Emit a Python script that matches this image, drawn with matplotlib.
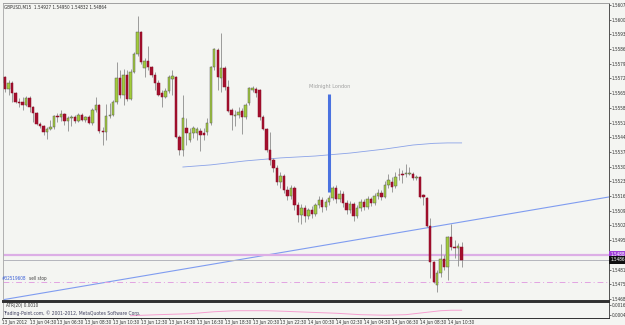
import numpy as np
import matplotlib.pyplot as plt
import matplotlib.transforms as mtransforms
from matplotlib import font_manager as fm

# look for a narrow face, MT4 text in the screenshot is squeezed
narrow_file = None
for f in fm.fontManager.ttflist:
    tag = (f.name + ' ' + str(f.stretch)).lower()
    if ('narrow' in tag or 'condensed' in tag) and f.style == 'normal' \
            and str(f.weight) in ('400', 'normal', 'regular', 'book'):
        narrow_file = f.fname
        break
if narrow_file:
    fp = fm.FontProperties(fname=narrow_file, size=3.3)
else:
    fp = fm.FontProperties(family='Liberation Sans', size=2.9)
FS = fp.get_size_in_points()

# header of the chart window
header_text = 'GBPUSD,M15  1.54927 1.54950 1.54832 1.54864'

# M15 candles, 13 Jun 2012 02:30 -> 14 Jun 2012 11:30
opens = [
    1.55701, 1.55730, 1.55673, 1.55701, 1.55654, 1.55612, 1.55612, 1.55597, 1.55630, 1.55588,
    1.55559, 1.55507, 1.55498, 1.55470, 1.55484, 1.55493, 1.55545, 1.55541, 1.55555, 1.55522,
    1.55536, 1.55541, 1.55522, 1.55550, 1.55526, 1.55541, 1.55512, 1.55574, 1.55597, 1.55474,
    1.55470, 1.55545, 1.55550, 1.55612, 1.55725, 1.55645, 1.55739, 1.55626, 1.55753, 1.55839,
    1.55943, 1.55772, 1.55805, 1.55777, 1.55739, 1.55701, 1.55654, 1.55635, 1.55664, 1.55720,
    1.55730, 1.55446, 1.55385, 1.55489, 1.55432, 1.55465, 1.55465, 1.55474, 1.55465, 1.55470,
    1.55512, 1.55777, 1.55858, 1.55725, 1.55772, 1.55682, 1.55574, 1.55545, 1.55550, 1.55569,
    1.55541, 1.55607, 1.55668, 1.55673, 1.55668, 1.55541, 1.55484, 1.55385, 1.55338, 1.55300,
    1.55233, 1.55262, 1.55195, 1.55167, 1.55205, 1.55124, 1.55077, 1.55110, 1.55072, 1.55101,
    1.55082, 1.55124, 1.55148, 1.55115, 1.55139, 1.55157, 1.55205, 1.55153, 1.55176, 1.55134,
    1.55101, 1.55129, 1.55072, 1.55110, 1.55139, 1.55115, 1.55153, 1.55134, 1.55167, 1.55181,
    1.55162, 1.55219, 1.55233, 1.55214, 1.55266, 1.55271, 1.55271, 1.55271, 1.55271, 1.55252,
    1.55257, 1.55171, 1.55157, 1.55025, 1.54855, 1.54746, 1.54803, 1.54869, 1.54831, 1.54973,
    1.54926, 1.54921, 1.54927]
highs = [
    1.55753, 1.55735, 1.55716, 1.55711, 1.55659, 1.55630, 1.55635, 1.55640, 1.55640, 1.55593,
    1.55564, 1.55517, 1.55503, 1.55493, 1.55526, 1.55550, 1.55559, 1.55574, 1.55559, 1.55545,
    1.55550, 1.55550, 1.55559, 1.55559, 1.55545, 1.55550, 1.55583, 1.55635, 1.55602, 1.55493,
    1.55602, 1.55607, 1.55621, 1.55801, 1.55763, 1.55768, 1.55763, 1.55768, 1.55848, 1.56018,
    1.55947, 1.55820, 1.55876, 1.55782, 1.55753, 1.55716, 1.55668, 1.55678, 1.55739, 1.55763,
    1.55735, 1.55456, 1.55645, 1.55536, 1.55489, 1.55498, 1.55493, 1.55489, 1.55489, 1.55536,
    1.55782, 1.55867, 1.55867, 1.55938, 1.55782, 1.55716, 1.55583, 1.55574, 1.55588, 1.55583,
    1.55607, 1.55682, 1.55687, 1.55682, 1.55673, 1.55550, 1.55489, 1.55470, 1.55347, 1.55314,
    1.55280, 1.55271, 1.55214, 1.55219, 1.55214, 1.55139, 1.55129, 1.55124, 1.55110, 1.55120,
    1.55134, 1.55167, 1.55162, 1.55153, 1.55171, 1.55214, 1.55219, 1.55195, 1.55190, 1.55148,
    1.55143, 1.55139, 1.55124, 1.55153, 1.55153, 1.55167, 1.55162, 1.55181, 1.55200, 1.55195,
    1.55238, 1.55271, 1.55257, 1.55280, 1.55300, 1.55290, 1.55318, 1.55304, 1.55280, 1.55266,
    1.55262, 1.55176, 1.55162, 1.55063, 1.54859, 1.54817, 1.54940, 1.54888, 1.54978, 1.55035,
    1.54959, 1.54945, 1.54950]
lows = [
    1.55692, 1.55659, 1.55645, 1.55612, 1.55607, 1.55588, 1.55574, 1.55593, 1.55564, 1.55517,
    1.55503, 1.55489, 1.55456, 1.55437, 1.55479, 1.55484, 1.55517, 1.55522, 1.55503, 1.55474,
    1.55498, 1.55512, 1.55517, 1.55522, 1.55517, 1.55507, 1.55503, 1.55564, 1.55465, 1.55408,
    1.55432, 1.55536, 1.55545, 1.55602, 1.55630, 1.55597, 1.55616, 1.55621, 1.55749, 1.55829,
    1.55791, 1.55730, 1.55763, 1.55730, 1.55668, 1.55640, 1.55588, 1.55630, 1.55654, 1.55645,
    1.55441, 1.55361, 1.55356, 1.55408, 1.55423, 1.55441, 1.55432, 1.55380, 1.55432, 1.55456,
    1.55503, 1.55763, 1.55668, 1.55659, 1.55668, 1.55564, 1.55479, 1.55498, 1.55536, 1.55460,
    1.55531, 1.55597, 1.55659, 1.55635, 1.55526, 1.55479, 1.55375, 1.55314, 1.55280, 1.55219,
    1.55205, 1.55181, 1.55148, 1.55153, 1.55101, 1.55044, 1.55035, 1.55044, 1.55058, 1.55063,
    1.55072, 1.55110, 1.55091, 1.55101, 1.55124, 1.55148, 1.55134, 1.55139, 1.55115, 1.55082,
    1.55087, 1.55049, 1.55063, 1.55096, 1.55101, 1.55106, 1.55120, 1.55124, 1.55153, 1.55148,
    1.55157, 1.55205, 1.55186, 1.55205, 1.55243, 1.55228, 1.55257, 1.55266, 1.55243, 1.55243,
    1.55157, 1.55124, 1.55020, 1.54779, 1.54755, 1.54713, 1.54784, 1.54817, 1.54770, 1.54912,
    1.54874, 1.54836, 1.54832]
closes = [
    1.55730, 1.55673, 1.55701, 1.55654, 1.55612, 1.55609, 1.55597, 1.55630, 1.55588, 1.55559,
    1.55507, 1.55498, 1.55470, 1.55484, 1.55493, 1.55545, 1.55541, 1.55555, 1.55522, 1.55536,
    1.55541, 1.55522, 1.55550, 1.55526, 1.55541, 1.55512, 1.55574, 1.55597, 1.55474, 1.55470,
    1.55545, 1.55550, 1.55612, 1.55725, 1.55645, 1.55739, 1.55626, 1.55753, 1.55839, 1.55943,
    1.55801, 1.55805, 1.55777, 1.55739, 1.55701, 1.55645, 1.55635, 1.55664, 1.55730, 1.55735,
    1.55446, 1.55385, 1.55536, 1.55465, 1.55465, 1.55489, 1.55484, 1.55456, 1.55456, 1.55512,
    1.55777, 1.55862, 1.55730, 1.55772, 1.55682, 1.55569, 1.55550, 1.55550, 1.55564, 1.55541,
    1.55597, 1.55678, 1.55678, 1.55654, 1.55541, 1.55484, 1.55385, 1.55338, 1.55300, 1.55233,
    1.55262, 1.55195, 1.55167, 1.55205, 1.55124, 1.55077, 1.55110, 1.55072, 1.55101, 1.55082,
    1.55124, 1.55148, 1.55115, 1.55139, 1.55157, 1.55205, 1.55153, 1.55176, 1.55134, 1.55101,
    1.55129, 1.55072, 1.55110, 1.55139, 1.55115, 1.55153, 1.55134, 1.55167, 1.55181, 1.55162,
    1.55219, 1.55243, 1.55209, 1.55257, 1.55264, 1.55266, 1.55276, 1.55276, 1.55252, 1.55257,
    1.55162, 1.55162, 1.55025, 1.54855, 1.54760, 1.54803, 1.54869, 1.54831, 1.54973, 1.54926,
    1.54921, 1.54930, 1.54864]

time_tick_idx = [0, 8, 16, 24, 32, 40, 48, 56, 64, 72, 80, 88, 96, 104, 112, 120, 128]
time_tick_labels = ['13 Jun 2012', '13 Jun 04:30', '13 Jun 06:30', '13 Jun 08:30',
                    '13 Jun 10:30', '13 Jun 12:30', '13 Jun 14:30', '13 Jun 16:30',
                    '13 Jun 18:30', '13 Jun 20:30', '13 Jun 22:30', '14 Jun 00:30',
                    '14 Jun 02:30', '14 Jun 04:30', '14 Jun 06:30', '14 Jun 08:30',
                    '14 Jun 10:30']

price_ticks = [1.54680, 1.54750, 1.54819, 1.54958, 1.55028, 1.55097, 1.55167,
               1.55236, 1.55306, 1.55375, 1.55445, 1.55514, 1.55584, 1.55653,
               1.55723, 1.55792, 1.55862, 1.55931, 1.56001, 1.56070]

bid_price = 1.54864
ask_price = 1.54888
sell_stop_price = 1.54760
sell_stop_text = '#32519608'

midnight_idx = 94
midnight_top = 1.55649
midnight_bottom = 1.55186

trend_idx = [0, 132]
trend_price = [1.54675, 1.55044]

ma_idx = [52, 60, 70, 80, 90, 100, 110, 118, 124, 128, 132]
ma_price = [1.55304, 1.55314, 1.55333, 1.55347, 1.55356, 1.55370, 1.55389,
            1.55408, 1.55416, 1.55418, 1.55418]

atr_idx = [37, 45, 54, 61, 67, 76, 81, 88, 96, 103, 110, 116, 121, 126, 129, 132]
atr_vals = [0.00025, 0.00038, 0.00050, 0.00075, 0.00088, 0.00088, 0.00081, 0.00069,
            0.00056, 0.00038, 0.00031, 0.00038, 0.00063, 0.00088, 0.00094, 0.00094]
atr_ticks = [0.0016, 0.0004]

BG = '#f4f5f2'
W, H = 625, 325

fig = plt.figure(figsize=(W / 100, H / 100), dpi=100, facecolor=BG)


def px_axes(x0, y0, x1, y1):
    return fig.add_axes([x0 / W, 1 - y1 / H, (x1 - x0) / W, (y1 - y0) / H])


ax = px_axes(3, 3, 609, 301)
ax_atr = px_axes(3, 302, 609, 318)

for a in (ax, ax_atr):
    a.set_facecolor(BG)
    a.set_xlim(0.37, 174.3)
    a.set_xticks([])
    a.yaxis.tick_right()
    a.tick_params(axis='y', length=1.5, width=0.5, pad=0.6, colors='#333333')
    a.spines['left'].set_color('#b0b0b0')
    a.spines['top'].set_color('#a0a0a0')
    a.spines['right'].set_color('#505050')
    a.spines['bottom'].set_color('#303030')
    for s in a.spines.values():
        s.set_linewidth(0.7)
ax.spines['bottom'].set_linewidth(1.4)
ax_atr.spines['top'].set_linewidth(1.4)
ax_atr.spines['top'].set_color('#303030')

ax.set_ylim(1.54670, 1.56080)
ax.set_yticks(price_ticks)
ax.set_yticklabels([f'{p:.5f}' for p in price_ticks], fontproperties=fp)

# candles
o = np.array(opens)
h = np.array(highs)
l = np.array(lows)
c = np.array(closes)
idx = np.arange(len(c))
up = c > o
ax.vlines(idx, l, h, color='#8c8c8c', lw=0.6, zorder=2)
body_bot = np.minimum(o, c)
body_h = np.maximum(np.abs(c - o), 0.00002)
ax.bar(idx[up], body_h[up], bottom=body_bot[up], width=0.7,
       color='#a2cc3a', edgecolor='#5a5a5a', lw=0.35, zorder=3)
ax.bar(idx[~up], body_h[~up], bottom=body_bot[~up], width=0.7,
       color='#a50f2d', edgecolor='#8a0c25', lw=0.35, zorder=3)

# trend line and moving average
ax.axline((trend_idx[0], trend_price[0]), (trend_idx[1], trend_price[1]),
          color='#7f9cf0', lw=0.8, zorder=1)
ax.plot(ma_idx, ma_price, color='#8aa2e8', lw=0.6, zorder=1)

# horizontal levels
ax.axhline(ask_price, color='#dcaee6', lw=1.6, zorder=1)
ax.axhline(bid_price, color='#b4b4bc', lw=0.7, zorder=1)
ax.axhline(sell_stop_price, color='#e2a3e2', lw=0.7, ls=(0, (6, 3, 1, 3)), zorder=1)

# Midnight London marker
ax.vlines(midnight_idx, midnight_bottom, midnight_top, color='#4a72e0', lw=2.2, zorder=4)
ax.text(midnight_idx, midnight_top + 0.00025, 'Midnight London', ha='center',
        va='bottom', fontproperties=fp, fontsize=FS + 0.7, color='#a0a0a0')

# texts
ax.text(0.002, 0.995, header_text, transform=ax.transAxes, ha='left', va='top',
        fontproperties=fp, color='#303030')
ax.text(0.0, sell_stop_price + 0.00006, sell_stop_text, ha='left', va='bottom',
        fontproperties=fp, color='#3a5fd8')
ax.text(7.8, sell_stop_price + 0.00006, 'sell stop', ha='left', va='bottom',
        fontproperties=fp, color='#404040')

trans = mtransforms.blended_transform_factory(ax.transAxes, ax.transData)
ax.text(1.003, ask_price, f'{ask_price:.5f}', transform=trans, ha='left', va='center',
        fontproperties=fp, color='white', clip_on=False,
        bbox=dict(boxstyle='square,pad=0.3', fc='#a040d8', ec='none'))
ax.text(1.003, bid_price, f'{bid_price:.5f}', transform=trans, ha='left', va='center',
        fontproperties=fp, color='white', clip_on=False,
        bbox=dict(boxstyle='square,pad=0.3', fc='#101010', ec='none'))

# ATR window
ax_atr.set_ylim(-0.00004, 0.00198)
ax_atr.set_yticks(atr_ticks)
ax_atr.set_yticklabels([f'{v:.4f}' for v in atr_ticks], fontproperties=fp)
ax_atr.plot(atr_idx, atr_vals, color='#f4a0d0', lw=0.7)
ax_atr.text(0.005, 0.95, 'ATR(20) 0.0010', transform=ax_atr.transAxes, ha='left',
            va='top', fontproperties=fp, color='#303030')
ax_atr.text(0.0, 0.28, 'Trading-Point.com, \u00a9 2001-2012, MetaQuotes Software Corp.',
            transform=ax_atr.transAxes, ha='left', va='center', fontproperties=fp,
            fontsize=FS + 0.3, color='#404060')

# time axis labels
tt = mtransforms.blended_transform_factory(ax_atr.transData, ax_atr.transAxes)
for i, lab in zip(time_tick_idx, time_tick_labels):
    ax_atr.text(i, -0.12, lab, transform=tt, ha='left', va='top', fontproperties=fp,
                color='#303030', clip_on=False)
    ax_atr.plot([i, i], [0, -0.08], transform=tt, color='#404040', lw=0.5,
                clip_on=False)

fig.savefig('out.png', dpi=100, facecolor=BG)
